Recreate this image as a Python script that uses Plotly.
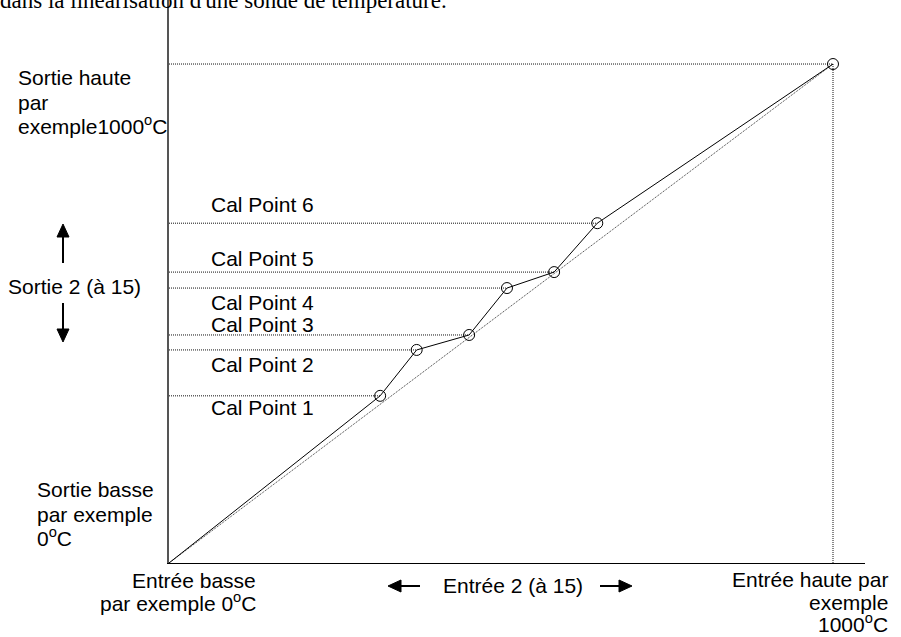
import plotly.graph_objects as go

# ---- data (°C) ----
cal_labels = ["Cal Point 1", "Cal Point 2", "Cal Point 3", "Cal Point 4", "Cal Point 5", "Cal Point 6"]
cal_input = [318, 373, 452, 509, 580, 645]
cal_output = [335, 427, 457, 551, 583, 681]
low_input, high_input = 0, 1000
low_output, high_output = 0, 1000

W, H = 901, 637
ML, MR, MT, MB = 169, 36, 0, 74
PW, PH = W - ML - MR, H - MT - MB
XMAX = 1048.2
YMAX = 1128.3

DOT = "1px,1px"
fig = go.Figure()

# ideal linear diagonal
fig.add_trace(go.Scatter(x=[low_input, high_input], y=[low_output, high_output], mode="lines",
                         line=dict(color="#333", width=1, dash=DOT), hoverinfo="skip"))
# horizontal dotted guides
hx, hy = [], []
for xi, yi in zip(cal_input + [high_input], cal_output + [high_output]):
    hx += [low_input, xi, None]
    hy += [yi, yi, None]
fig.add_trace(go.Scatter(x=hx, y=hy, mode="lines", line=dict(color="#111", width=1, dash=DOT),
                         hoverinfo="skip"))
# vertical dotted guide at high input
fig.add_trace(go.Scatter(x=[high_input, high_input], y=[low_output, high_output], mode="lines",
                         line=dict(color="#111", width=1, dash=DOT), hoverinfo="skip"))
# linearised curve
fig.add_trace(go.Scatter(x=[low_input] + cal_input + [high_input],
                         y=[low_output] + cal_output + [high_output], mode="lines",
                         line=dict(color="#000", width=1)))
# calibration markers
fig.add_trace(go.Scatter(x=cal_input + [high_input], y=cal_output + [high_output], mode="markers",
                         marker=dict(symbol="circle-open", size=11, color="#000", line=dict(width=1))))


def px(xp):
    return (xp - ML) / PW


def py(yp):
    return (MT + PH - yp) / PH


FONT = dict(family="Liberation Sans, Arial, sans-serif", size=21, color="#000")
anns = []


def lab(text, x, base, anchor="left"):
    anns.append(dict(text=text, x=px(x), y=py(base + 6), xref="paper", yref="paper",
                     xanchor=anchor, yanchor="bottom", showarrow=False, font=FONT, align=anchor))


lab("Sortie haute", 16, 85)
lab("par", 16, 110)
lab("exemple1000<sup>o</sup>C", 16, 134)
cal_base = [415, 372, 332, 310, 266, 212]
for t, b in zip(cal_labels, cal_base):
    lab(t, 209, b)
lab("Sortie 2 (à 15)", 6, 294)
lab("Sortie basse", 35, 497)
lab("par exemple", 35, 522)
lab("0<sup>o</sup>C", 35, 546)
lab("Entrée 2 (à 15)", 441, 593)
lab("Entrée basse", 258, 588, "right")
lab("par exemple 0<sup>o</sup>C", 258, 611, "right")
lab("Entrée haute par", 890, 587, "right")
lab("exemple", 890, 610, "right")
lab("1000<sup>o</sup>C", 890, 632, "right")

# clipped caption at the very top
anns.append(dict(text="dans la linéarisation d'une sonde de température.", x=px(449), y=py(15),
                 xref="paper", yref="paper", xanchor="right", yanchor="bottom", showarrow=False,
                 font=dict(family="Liberation Serif, Times New Roman, serif", size=23, color="#000")))

shapes = []


def arrow(hx_, hy_, tx, ty):
    L, Wd = 13, 6
    dx, dy = hx_ - tx, hy_ - ty
    n = (dx * dx + dy * dy) ** 0.5
    ux, uy = dx / n, dy / n
    bx, by = hx_ - ux * L, hy_ - uy * L
    shapes.append(dict(type="line", xref="paper", yref="paper", x0=px(tx), y0=py(ty),
                       x1=px(bx), y1=py(by), line=dict(color="#000", width=2)))
    p1 = (bx - uy * Wd, by + ux * Wd)
    p2 = (bx + uy * Wd, by - ux * Wd)
    path = "M {} {} L {} {} L {} {} Z".format(px(hx_), py(hy_), px(p1[0]), py(p1[1]),
                                              px(p2[0]), py(p2[1]))
    shapes.append(dict(type="path", xref="paper", yref="paper", path=path,
                       fillcolor="#000", line=dict(color="#000", width=1)))


arrow(63, 224, 63, 263)
arrow(63, 342, 63, 303)
arrow(388, 586, 420, 586)
arrow(632, 586, 600, 586)

fig.update_layout(
    width=W, height=H, margin=dict(l=ML, r=MR, t=MT, b=MB),
    paper_bgcolor="white", plot_bgcolor="white", showlegend=False,
    annotations=anns, shapes=shapes,
    xaxis=dict(range=[0, XMAX], showgrid=False, zeroline=False, showticklabels=False, ticks="",
               showline=True, linecolor="#000", linewidth=1, fixedrange=True),
    yaxis=dict(range=[0, YMAX], showgrid=False, zeroline=False, showticklabels=False, ticks="",
               showline=True, linecolor="#555", linewidth=2, fixedrange=True),
)
fig.write_html("out.html", config={"displayModeBar": False},
               post_script="document.body.style.margin='0';document.body.style.overflow='hidden';")
